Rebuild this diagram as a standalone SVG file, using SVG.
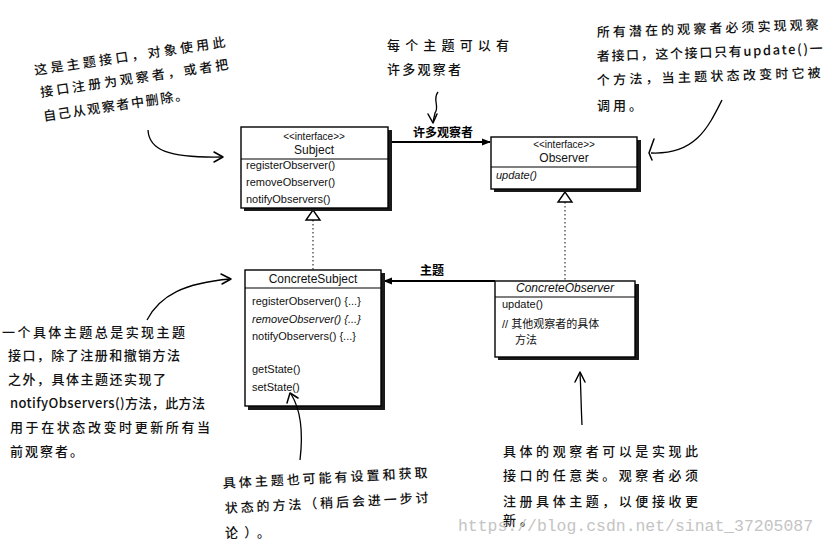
<svg xmlns="http://www.w3.org/2000/svg" width="825" height="547" viewBox="0 0 825 547">
<defs>
<style>
.box{fill:#fff;stroke:#000;stroke-width:1.4}
.shadow{fill:#1a1a1a}
.div{stroke:#000;stroke-width:1.2}
.t{font-family:"Liberation Sans","Noto Sans CJK SC",sans-serif;font-size:11px;fill:#111}
.st{font-size:10px}
.title{font-size:12px}
.c{text-anchor:middle}
.it{font-style:italic}
.hand{font-family:"Noto Sans CJK SC","Noto Sans CJK JP",sans-serif;font-size:13px;font-weight:500;fill:#111}
.lbl{font-family:"Noto Sans CJK SC",sans-serif;font-size:12px;font-weight:bold;fill:#000}
.line{stroke:#000;stroke-width:1.8;fill:none}
.dot{stroke:#333;stroke-width:1.2;stroke-dasharray:1.5 2.5;fill:none}
.tri{fill:#fff;stroke:#000;stroke-width:1.4}
.note{stroke:#000;stroke-width:1.3;fill:none}
.head{stroke:#000;stroke-width:1.5;fill:none;stroke-linecap:round;stroke-linejoin:round}
.wm{font-family:"Liberation Mono",monospace;font-size:16px;fill:#c4c4c4}
</style>
<marker id="solid" viewBox="0 0 10 10" refX="9" refY="5" markerWidth="9" markerHeight="9" orient="auto" markerUnits="userSpaceOnUse">
<path d="M0,1 L10,5 L0,9 Z" fill="#000"/>
</marker>
</defs>
<rect width="825" height="547" fill="#fff"/>

<g id="connectors">
<line class="line" x1="390" y1="142" x2="490" y2="142" marker-end="url(#solid)"/>
<text class="lbl" x="413" y="137">许多观察者</text>
<line class="line" x1="495" y1="281" x2="384" y2="281" marker-end="url(#solid)"/>
<text class="lbl" x="420" y="275">主题</text>
<line class="dot" x1="313" y1="220" x2="313" y2="270"/>
<polygon class="tri" points="313,210 306,220 320,220"/>
<line class="dot" x1="565" y1="202" x2="565" y2="281"/>
<polygon class="tri" points="565,192 558,202 572,202"/>
</g>

<g id="Subject">
<rect class="shadow" x="244" y="130" width="148" height="81"/>
<rect class="box" x="241" y="127" width="147" height="81"/>
<line class="div" x1="241" y1="159" x2="388" y2="159"/>
<text class="t st c" x="314" y="140">&lt;&lt;interface&gt;&gt;</text>
<text class="t title c" x="314" y="154">Subject</text>
<text class="t" x="246" y="169">registerObserver()</text>
<text class="t" x="246" y="186">removeObserver()</text>
<text class="t" x="246" y="203">notifyObservers()</text>
</g>

<g id="Observer">
<rect class="shadow" x="494" y="140" width="147" height="52"/>
<rect class="box" x="491" y="137" width="146" height="52"/>
<line class="div" x1="491" y1="167" x2="637" y2="167"/>
<text class="t st c" x="564" y="148">&lt;&lt;interface&gt;&gt;</text>
<text class="t title c" x="564" y="162">Observer</text>
<text class="t it" x="496" y="179">update()</text>
</g>

<g id="ConcreteSubject">
<rect class="shadow" x="248" y="273" width="137" height="137"/>
<rect class="box" x="245" y="270" width="136" height="136"/>
<line class="div" x1="245" y1="288" x2="381" y2="288"/>
<text class="t title c" x="313" y="283">ConcreteSubject</text>
<text class="t" x="252" y="305">registerObserver() {...}</text>
<text class="t it" x="252" y="323">removeObserver() {...}</text>
<text class="t" x="252" y="340">notifyObservers() {...}</text>
<text class="t" x="252" y="373">getState()</text>
<text class="t" x="252" y="391">setState()</text>
</g>

<g id="ConcreteObserver">
<rect class="shadow" x="498" y="284" width="141" height="76"/>
<rect class="box" x="495" y="281" width="140" height="76"/>
<line class="div" x1="495" y1="297" x2="635" y2="297"/>
<text class="t title c it" x="565" y="292">ConcreteObserver</text>
<text class="t" x="502" y="308">update()</text>
<text class="t" x="502" y="328">// 其他观察者的具体</text>
<text class="t" x="515" y="344">方法</text>
</g>

<g id="note-arrows">
<path class="note" d="M148,130 C149,150 168,158 222,157"/>
<path class="head" d="M214,152 L223,157 L214,162"/>
<path class="note" d="M438,92 C432,100 440,106 435,113 L433,122"/>
<path class="head" d="M428,114 L433,123 L437,114"/>
<path class="note" d="M722,100 C708,128 695,155 651,153"/>
<path class="head" d="M654,139 L649,153 L652,160"/>
<path class="note" d="M147,320 C160,295 185,283 230,279"/>
<path class="head" d="M221,274 L231,279 L222,284"/>
<path class="note" d="M300,460 C303,435 301,410 291,394"/>
<path class="head" d="M287,403 L290,393 L298,398"/>
<path class="note" d="M582,425 C581,405 581,390 580,373"/>
<path class="head" d="M575,382 L580,372 L585,382"/>
</g>

<g id="note-subject">
<text class="hand" x="35" y="75" transform="rotate(-8.5 35 75)" textLength="193" lengthAdjust="spacing">这是主题接口，对象使用此</text>
<text class="hand" x="41" y="97" transform="rotate(-8.5 41 97)" textLength="190" lengthAdjust="spacing">接口注册为观察者，或者把</text>
<text class="hand" x="44" y="121" transform="rotate(-8.5 44 121)" textLength="146" lengthAdjust="spacing">自己从观察者中删除。</text>
</g>

<g id="note-many">
<text class="hand" x="387" y="50" textLength="122" lengthAdjust="spacing">每个主题可以有</text>
<text class="hand" x="387" y="74" textLength="74" lengthAdjust="spacing">许多观察者</text>
</g>

<g id="note-observer">
<text class="hand" x="597" y="37" transform="rotate(-2 597 37)" textLength="222" lengthAdjust="spacing">所有潜在的观察者必须实现观察</text>
<text class="hand" x="597" y="61" transform="rotate(-2 597 61)" textLength="226" lengthAdjust="spacing">者接口，这个接口只有update()一</text>
<text class="hand" x="597" y="85" transform="rotate(-2 597 85)" textLength="224" lengthAdjust="spacing">个方法，当主题状态改变时它被</text>
<text class="hand" x="597" y="110" textLength="45" lengthAdjust="spacing">调用。</text>
</g>

<g id="note-concrete-subject">
<text class="hand" x="2" y="337" textLength="183" lengthAdjust="spacing">一个具体主题总是实现主题</text>
<text class="hand" x="8" y="360" textLength="172" lengthAdjust="spacing">接口，除了注册和撤销方法</text>
<text class="hand" x="8" y="384" textLength="158" lengthAdjust="spacing">之外，具体主题还实现了</text>
<text class="hand" x="10" y="408" textLength="195" lengthAdjust="spacing">notifyObservers()方法，此方法</text>
<text class="hand" x="10" y="432" textLength="200" lengthAdjust="spacing">用于在状态改变时更新所有当</text>
<text class="hand" x="10" y="456" textLength="73" lengthAdjust="spacing">前观察者。</text>
</g>

<g id="note-state">
<text class="hand" x="223" y="488" transform="rotate(-3 223 488)" textLength="205" lengthAdjust="spacing">具体主题也可能有设置和获取</text>
<text class="hand" x="225" y="513" transform="rotate(-3 225 513)" textLength="204" lengthAdjust="spacing">状态的方法（稍后会进一步讨</text>
<text class="hand" x="225" y="537" textLength="45" lengthAdjust="spacing">论）。</text>
</g>

<g id="note-concrete-observer">
<text class="hand" x="503" y="456" textLength="195" lengthAdjust="spacing">具体的观察者可以是实现此</text>
<text class="hand" x="503" y="480" textLength="195" lengthAdjust="spacing">接口的任意类。观察者必须</text>
<text class="hand" x="503" y="506" textLength="195" lengthAdjust="spacing">注册具体主题，以便接收更</text>
<text class="hand" x="503" y="525" textLength="30" lengthAdjust="spacing">新。</text>
</g>

<text class="wm" x="458" y="531" textLength="355" lengthAdjust="spacingAndGlyphs">https://blog.csdn.net/sinat_37205087</text>
</svg>
